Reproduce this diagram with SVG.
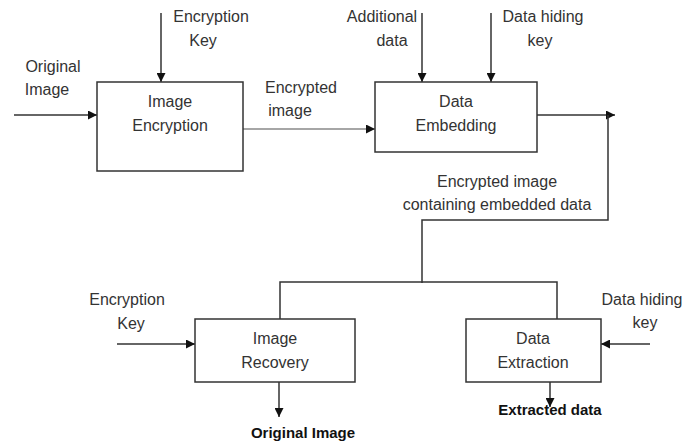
<svg xmlns="http://www.w3.org/2000/svg" width="685" height="443" viewBox="0 0 685 443">
<defs>
<marker id="ah" viewBox="0 0 10 10" refX="10" refY="5" markerWidth="9" markerHeight="9" markerUnits="userSpaceOnUse" orient="auto"><path d="M0,0 L10,5 L0,10 z" fill="#111"/></marker>
<style>
.box{fill:#fff;stroke:#333;stroke-width:1.5}
.ln{fill:none;stroke:#333;stroke-width:1.5}
.ar{fill:none;stroke:#333;stroke-width:1.5;marker-end:url(#ah)}
text{font-family:"Liberation Sans",Arial,sans-serif;font-size:16px;fill:#333;text-anchor:middle}
.b{font-weight:bold;fill:#111;font-size:15px}
</style>
</defs>
<g id="connectors">
<line class="ar" x1="14" y1="115" x2="97" y2="115"/>
<line class="ar" x1="161" y1="13" x2="161" y2="82"/>
<line class="ar" x1="243" y1="129" x2="375" y2="129" style="stroke:#888"/>
<line class="ar" x1="422" y1="13" x2="422" y2="82"/>
<line class="ar" x1="491" y1="13" x2="491" y2="82"/>
<line class="ar" x1="537" y1="115" x2="615" y2="115"/>
<polyline class="ln" points="608,115 608,220 422,220 422,283"/>
<polyline class="ln" points="280,319 280,282 557,282 557,319"/>
<line class="ar" x1="117" y1="344" x2="195" y2="344"/>
<line class="ar" x1="279" y1="382" x2="279" y2="417"/>
<line class="ar" x1="650" y1="344" x2="601" y2="344"/>
<line class="ar" x1="550" y1="382" x2="550" y2="407"/>
</g>
<g id="image-encryption">
<rect class="box" x="97" y="82" width="146" height="89"/>
<text x="170" y="107">Image</text>
<text x="170" y="131">Encryption</text>
</g>
<g id="data-embedding">
<rect class="box" x="375" y="82" width="162" height="70"/>
<text x="456" y="107">Data</text>
<text x="456" y="131">Embedding</text>
</g>
<g id="image-recovery">
<rect class="box" x="195" y="319" width="160" height="63"/>
<text x="275" y="344">Image</text>
<text x="275" y="368">Recovery</text>
</g>
<g id="data-extraction">
<rect class="box" x="466" y="319" width="135" height="63"/>
<text x="533" y="344">Data</text>
<text x="533" y="368">Extraction</text>
</g>
<g id="labels">
<text x="211" y="22">Encryption</text>
<text x="203" y="46">Key</text>
<text x="53" y="72">Original</text>
<text x="47" y="95">Image</text>
<text x="301" y="93">Encrypted</text>
<text x="290" y="116">image</text>
<text x="382" y="22">Additional</text>
<text x="392" y="46">data</text>
<text x="543" y="22">Data hiding</text>
<text x="540" y="46">key</text>
<text x="497" y="187">Encrypted image</text>
<text x="497" y="210">containing embedded data</text>
<text x="127" y="305">Encryption</text>
<text x="131" y="329">Key</text>
<text x="642" y="305">Data hiding</text>
<text x="645" y="328">key</text>
<text class="b" x="303" y="438">Original Image</text>
<text class="b" x="550" y="415">Extracted data</text>
</g>
</svg>
